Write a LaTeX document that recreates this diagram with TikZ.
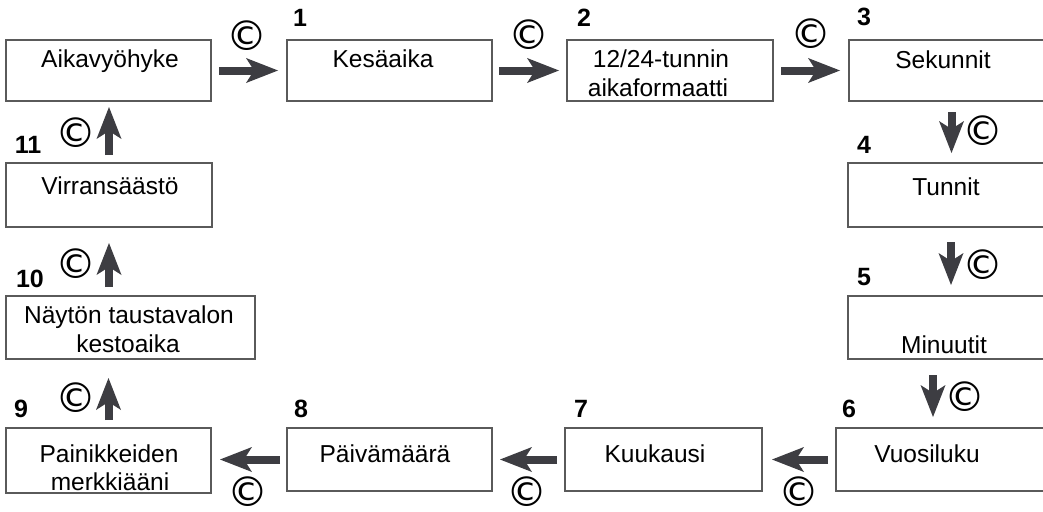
\documentclass[tikz,border=0pt]{standalone}
\usepackage{fontspec}
\setmainfont{Liberation Sans}
\newfontfamily\symfont{DejaVu Sans}
\usetikzlibrary{arrows.meta}
\definecolor{arrgray}{HTML}{3D3D42}
\definecolor{boxgray}{HTML}{5A5A5A}
\tikzset{
  boxnode/.style={draw=boxgray,line width=1.5pt,inner sep=0pt,outer sep=0pt,anchor=north west},
  txt/.style={inner sep=0pt,anchor=base,font=\fontsize{24.5}{28}\selectfont},
  num/.style={inner sep=0pt,anchor=base,font=\fontsize{25}{28}\selectfont\bfseries},
  cmark/.style={inner sep=0pt,anchor=center,font=\symfont\fontsize{41}{42}\selectfont},
  arr/.style={draw=arrgray,line width=8pt,-{Stealth[length=32pt,width=25pt,inset=8pt,line width=0pt]}}
}
\begin{document}
\begin{tikzpicture}[x=1pt,y=-1pt]
\useasboundingbox (0,0) rectangle (1043,511);
\clip (0,0) rectangle (1043,511);
% boxes
\node[boxnode,minimum width=205pt,minimum height=61pt] (b0) at (6,40) {};
\node[boxnode,minimum width=205pt,minimum height=61pt] (b1) at (287,40) {};
\node[boxnode,minimum width=206pt,minimum height=61pt] (b2) at (567,40) {};
\node[boxnode,minimum width=205pt,minimum height=61pt] (b3) at (849,40) {};
\node[boxnode,minimum width=206pt,minimum height=64pt] (b4) at (848,163) {};
\node[boxnode,minimum width=206pt,minimum height=63pt] (b5) at (848,296) {};
\node[boxnode,minimum width=218pt,minimum height=63pt] (b6) at (836,428) {};
\node[boxnode,minimum width=197pt,minimum height=63pt] (b7) at (565,428) {};
\node[boxnode,minimum width=205pt,minimum height=63pt] (b8) at (287,428) {};
\node[boxnode,minimum width=205pt,minimum height=65pt] (b9) at (6,428) {};
\node[boxnode,minimum width=249pt,minimum height=63pt] (b10) at (6,296) {};
\node[boxnode,minimum width=206pt,minimum height=64pt] (b11) at (6,163) {};
% texts
\node[txt] (t0) at (110,67) {Aikavyöhyke};
\node[txt] (t1) at (383,67) {Kesäaika};
\node[txt] (t2a) at (661,67) {12/24-tunnin};
\node[txt] (t2b) at (658,96) {aikaformaatti};
\node[txt] (t3) at (943,68) {Sekunnit};
\node[txt] (t4) at (946,195) {Tunnit};
\node[txt] (t5) at (944,353) {Minuutit};
\node[txt] (t6) at (927,462) {Vuosiluku};
\node[txt] (t7) at (655,462) {Kuukausi};
\node[txt] (t8) at (385,462) {Päivämäärä};
\node[txt] (t9a) at (109,462) {Painikkeiden};
\node[txt] (t9b) at (110,490) {merkkiääni};
\node[txt] (t10a) at (129,323) {Näytön taustavalon};
\node[txt] (t10b) at (128,352) {kestoaika};
\node[txt] (t11) at (110,194) {Virransäästö};
% numbers
\node[num] (n1) at (300,27) {1};
\node[num] (n2) at (584,27) {2};
\node[num] (n3) at (864,26) {3};
\node[num] (n4) at (864,153) {4};
\node[num] (n5) at (864,285) {5};
\node[num] (n6) at (849,417) {6};
\node[num] (n7) at (581,417) {7};
\node[num] (n8) at (301,417) {8};
\node[num] (n9) at (21,417) {9};
\node[num] (n10) at (30,287) {10};
\node[num] (n11) at (28,153) {11};
% copyright marks
\node[cmark] (c01) at (247,36) {©};
\node[cmark] (c12) at (529,35) {©};
\node[cmark] (c23) at (811,34) {©};
\node[cmark] (c34) at (983,131) {©};
\node[cmark] (c45) at (983,265) {©};
\node[cmark] (c56) at (965,397) {©};
\node[cmark] (c67) at (799,492) {©};
\node[cmark] (c78) at (527,492) {©};
\node[cmark] (c89) at (248,492) {©};
\node[cmark] (c910) at (76,398) {©};
\node[cmark] (c1011) at (76,264) {©};
\node[cmark] (c110) at (76,133) {©};
% arrows
\draw[arr,shorten <=8pt,shorten >=9pt] (b0.east) -- (b1.west);
\draw[arr,shorten <=7pt,shorten >=8pt] (b1.east) -- (b2.west);
\draw[arr,shorten <=8pt,shorten >=9pt] (b2.east) -- (b3.west);
\draw[arr,shorten <=11pt,shorten >=10pt] (b3.south) -- (b3.south |- b4.north);
\draw[arr,shorten <=15pt,shorten >=11pt] (b4.south) -- (b4.south |- b5.north);
\draw[arr,shorten <=16pt,shorten >=11pt] ([xshift=-18pt]b5.south) -- ([xshift=-18pt]b5.south |- b6.north);
\draw[arr,shorten <=8pt,shorten >=10pt] (b6.west) -- (b6.west -| b7.east);
\draw[arr,shorten <=8pt,shorten >=8pt] (b7.west) -- (b7.west -| b8.east);
\draw[arr,shorten <=7pt,shorten >=9pt] (b8.west) -- (b8.west -| b9.east);
\draw[arr,shorten <=8pt,shorten >=19pt] (b9.north) -- (b9.north |- b10.south);
\draw[arr,shorten <=9pt,shorten >=16pt] (b11.south |- b10.north) -- (b11.south);
\draw[arr,shorten <=8pt,shorten >=6pt] (b11.north) -- (b11.north |- b0.south);
\end{tikzpicture}
\end{document}
